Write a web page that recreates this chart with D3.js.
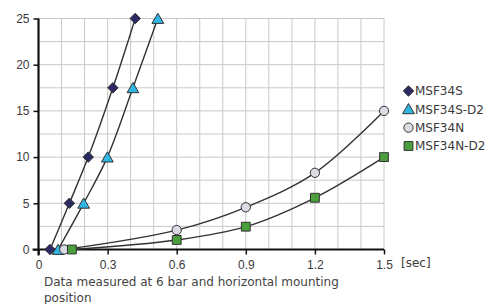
<!DOCTYPE html>
<html lang="en">
<head>
<meta charset="UTF-8">
<title>Response time chart</title>
<style>
  body { margin: 0; background: #fff; }
  svg { display: block; font-family: "DejaVu Sans", sans-serif; }
  .grid line { stroke: #c8c8c8; stroke-width: 1; }
  .axis path, .axis line { stroke: #111; }
  .axis text { fill: #3a3a3a; font-size: 12px; }
  .curve { fill: none; stroke: #333; stroke-width: 1.4; }
  .mark { stroke: #333; stroke-width: 1; }
  .legend text { fill: #3a3a3a; font-size: 12px; }
  .note { fill: #444; font-size: 12px; }
</style>
</head>
<body>
<svg width="495" height="304"></svg>
<script src="https://d3js.org/d3.v7.min.js"></script>
<script>
    // values (time in sec)
    const xTicks = [0, 0.3, 0.6, 0.9, 1.2, 1.5];
    const xTickLabels = ['0', '0.3', '0.6', '0.9', '1.2', '1.5'];
    const yTicks = [0, 5, 10, 15, 20, 25];

    const msf34s   = [[0.05, 0], [0.134, 5], [0.216, 10], [0.323, 17.5], [0.42, 25]];
    const msf34sD2 = [[0.085, 0], [0.196, 5], [0.299, 10], [0.41, 17.5], [0.518, 25]];
    const msf34n   = [[0.112, 0], [0.6, 2.1], [0.9, 4.57], [1.2, 8.3], [1.5, 15]];
    const msf34nD2 = [[0.145, 0], [0.6, 1.03], [0.9, 2.47], [1.2, 5.6], [1.5, 10]];

    const series = [
        { name: 'MSF34S',    pts: msf34s,   shape: 'diamond',  fill: '#2b2a63' },
        { name: 'MSF34S-D2', pts: msf34sD2, shape: 'triangle', fill: '#2fb6e3' },
        { name: 'MSF34N',    pts: msf34n,   shape: 'circle',   fill: '#dadbe3' },
        { name: 'MSF34N-D2', pts: msf34nD2, shape: 'square',   fill: '#4a9e3c' }
    ];

    const svg = d3.select('svg');
    const x = d3.scaleLinear().domain([0, 1.5]).range([38.5, 384]);
    const y = d3.scaleLinear().domain([0, 25]).range([249.5, 18.5]);

    // grid: every 0.1 s and every 2.5 units
    const grid = svg.append('g').attr('class', 'grid');
    grid.selectAll('line.v').data(d3.range(1, 16).map(i => i / 10)).join('line')
        .attr('x1', d => x(d)).attr('x2', d => x(d))
        .attr('y1', y(25)).attr('y2', y(0));
    grid.selectAll('line.h').data(d3.range(1, 11).map(i => i * 2.5)).join('line')
        .attr('x1', x(0)).attr('x2', x(1.5))
        .attr('y1', d => y(d)).attr('y2', d => y(d));

    const xAxis = svg.append('g').attr('class', 'axis')
        .attr('transform', `translate(0,${y(0)})`)
        .call(d3.axisBottom(x).tickValues(xTicks).tickFormat((d, i) => xTickLabels[i]).tickSize(5).tickPadding(4).tickSizeOuter(0));
    xAxis.select('.domain').attr('stroke-width', 2.2).attr('d', `M${x(0) - 6},0H${x(1.5)}`);
    xAxis.selectAll('.tick line').attr('stroke-width', 1.5);
    xAxis.selectAll('text').attr('dy', '0.85em');

    const yAxis = svg.append('g').attr('class', 'axis')
        .attr('transform', `translate(${x(0)},0)`)
        .call(d3.axisLeft(y).tickValues(yTicks).tickSize(5).tickPadding(4).tickSizeOuter(0));
    yAxis.select('.domain').attr('stroke-width', 2.2).attr('d', `M0,${y(25)}V${y(0) + 6}`);
    yAxis.selectAll('.tick line').attr('stroke-width', 1.5);

    svg.append('text').attr('x', 401).attr('y', 267)
        .attr('fill', '#3a3a3a').attr('font-size', 12).text('[sec]');

    const line = d3.line().x(d => x(d[0])).y(d => y(d[1])).curve(d3.curveCatmullRom.alpha(0.5));

    const diamond = { draw(ctx, size) { const r = Math.sqrt(size / 2); ctx.moveTo(0, -r); ctx.lineTo(r, 0); ctx.lineTo(0, r); ctx.lineTo(-r, 0); ctx.closePath(); } };
    const symbols = {
        diamond: d3.symbol().type(diamond).size(55),
        triangle: d3.symbol().type(d3.symbolTriangle).size(60),
        circle: d3.symbol().type(d3.symbolCircle).size(68),
        square: d3.symbol().type(d3.symbolSquare).size(78)
    };

    svg.append('g').selectAll('path').data(series).join('path')
        .attr('class', 'curve').attr('d', d => line(d.pts));

    series.forEach(s => {
        svg.append('g').selectAll('path').data(s.pts).join('path')
            .attr('class', 'mark')
            .attr('fill', s.fill)
            .attr('transform', d => `translate(${x(d[0])},${y(d[1]) + (s.shape === 'triangle' ? 1.5 : 0)})`)
            .attr('d', symbols[s.shape]());
    });

    const legend = svg.append('g').attr('class', 'legend');
    const ly = d3.scalePoint().domain(series.map(s => s.name)).range([91, 146]);
    series.forEach(s => {
        const g = legend.append('g').attr('transform', `translate(408.5,${ly(s.name)})`);
        g.append('path').attr('class', 'mark').attr('fill', s.fill)
            .attr('transform', s.shape === 'triangle' ? 'translate(0,1)' : null)
            .attr('d', symbols[s.shape]());
        g.append('text').attr('x', 6.5).attr('dy', '0.36em').text(s.name);
    });

    const note = svg.append('text').attr('class', 'note').attr('x', 44).attr('y', 286);
    note.append('tspan').attr('x', 44).text('Data measured at 6 bar and horizontal mounting');
    note.append('tspan').attr('x', 44).attr('dy', 16).text('position');
</script>
</body>
</html>
